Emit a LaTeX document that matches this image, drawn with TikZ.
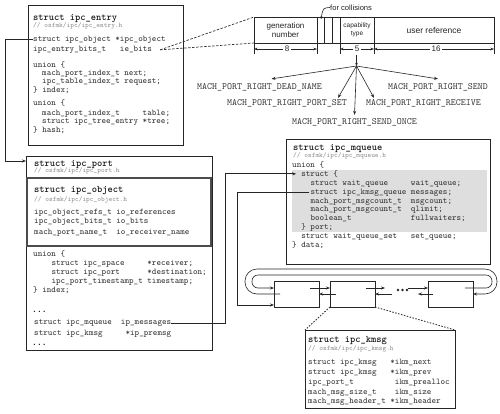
\documentclass[tikz,border=0pt]{standalone}
\usepackage{fontspec}
\setsansfont{Liberation Sans}
\newfontfamily\lmono{Liberation Mono}
\usetikzlibrary{arrows.meta,calc}
\newcounter{lnc}
\newcommand\cl[3]{\stepcounter{lnc}\node[#1] (ln\arabic{lnc}) at (#2) {#3};}
\begin{document}
\begin{tikzpicture}[x=1pt,y=-1pt,
  box/.style={draw=black!85, line width=0.8pt, inner sep=0pt, outer sep=0pt, anchor=north west},
  objbox/.style={draw=black!70, line width=1.4pt, inner sep=0pt, outer sep=0pt, anchor=north west},
  code/.style={font=\fontsize{8.7}{10}\selectfont\ttfamily, text=black!80, inner sep=0pt, anchor=base west},
  dots/.style={font=\fontsize{8}{10}\selectfont\lmono\bfseries, text=black!90, inner sep=0pt, anchor=base west},
  ttl/.style={font=\fontsize{10}{12}\selectfont\ttfamily\bfseries, text=black!90, inner sep=0pt, anchor=base west},
  cmt/.style={font=\fontsize{7}{8}\selectfont\ttfamily, text=black!45, inner sep=0pt, anchor=base west},
  mach/.style={font=\fontsize{9.5}{11}\selectfont\ttfamily, text=black!80, inner sep=0pt, anchor=base},
  lbl/.style={font=\fontsize{8}{8.5}\selectfont\sffamily, text=black!85, inner sep=0pt, align=center},
  dimlbl/.style={font=\fontsize{8}{9}\selectfont\sffamily, text=black!85, fill=white, inner sep=1.5pt},
  arr/.style={-{Stealth[length=4pt,width=3pt]}, line width=0.6pt, draw=black!85},
  wire/.style={line width=0.7pt, draw=black!85},
  dimarr/.style={{Stealth[length=3.5pt,width=2.5pt]}-{Stealth[length=3.5pt,width=2.5pt]}, line width=0.5pt, draw=black!85},
  dashedl/.style={line width=0.7pt, draw=black!80, dash pattern=on 2.5pt off 1.5pt},
  dottedl/.style={line width=0.9pt, draw=black!80, dash pattern=on 1.5pt off 1.5pt},
]
\fill[white] (0,0) rectangle (500,413);
\useasboundingbox (0,0) rectangle (500,413);

% ---------- boxes ----------
\node[box, minimum width=155pt, minimum height=140pt] (entry) at (28,5) {};
\node[box, minimum width=186pt, minimum height=194pt] (portbox) at (26,156) {};
\node[objbox, minimum width=184pt, minimum height=68pt] (objbox) at (27,178) {};
\node[box, minimum width=204pt, minimum height=125pt] (mq) at (286,139) {};
\fill[black!13] (292,170) rectangle (487,232);
\node[box, minimum width=150pt, minimum height=78pt] (kmsg) at (305,330) {};
\node[box, minimum width=240pt, minimum height=26pt] (bits) at (254,17) {};
\node[box, minimum width=45pt, minimum height=26pt] (n1) at (274,281) {};
\node[box, minimum width=45pt, minimum height=26pt] (n2) at (330,281) {};
\node[box, minimum width=45pt, minimum height=26pt] (n3) at (428,281) {};

% ---------- ipc_entry ----------
\node[ttl] (eT) at (33,20) {struct ipc\_entry};
\node[cmt] (eC) at (33,27.5) {// osfmk/ipc/ipc\_entry.h};
\node[code] (ipcobj) at (33,41.5) {struct ipc\_object *ipc\_object};
\node[code] (iebits) at (33,51.5) {ipc\_entry\_bits\_t~~~ie\_bits};
\cl{code}{33,67.5}{union \{}
\cl{code}{42,75.5}{mach\_port\_index\_t next;}
\cl{code}{42,83.5}{ipc\_table\_index\_t request;}
\cl{code}{33,92.5}{\} index;}
\cl{code}{33,105.5}{union \{}
\cl{code}{42,115.5}{mach\_port\_index\_t~~~~~table;}
\cl{code}{42,123.5}{struct ipc\_tree\_entry *tree;}
\cl{code}{33,132.5}{\} hash;}

% ---------- ipc_port ----------
\node[ttl] (pT) at (34,166) {struct ipc\_port};
\node[cmt] (pC) at (34,172.5) {// osfmk/ipc/ipc\_port.h};
\node[ttl] (oT) at (34,192) {struct ipc\_object};
\node[cmt] (oC) at (34,201.5) {// osfmk/ipc/ipc\_object.h};
\cl{code}{34,214.5}{ipc\_object\_refs\_t io\_references}
\cl{code}{34,223.5}{ipc\_object\_bits\_t io\_bits}
\cl{code}{34,234.5}{mach\_port\_name\_t~~io\_receiver\_name}
\cl{code}{33,256}{union \{}
\cl{code}{51.3,265.5}{struct ipc\_space~~~~~*receiver;}
\cl{code}{51.3,274.5}{struct ipc\_port~~~~~~*destination;}
\cl{code}{51.3,283.5}{ipc\_port\_timestamp\_t~timestamp;}
\cl{code}{33,292.5}{\} index;}
\cl{dots}{32,312}{...}
\node[code] (msgs) at (34,324.5) {struct ipc\_mqueue~~ip\_messages};
\cl{code}{34,335.5}{struct ipc\_kmsg~~~~~*ip\_premsg}
\cl{dots}{32,345}{...}

% ---------- ipc_mqueue ----------
\node[ttl] (mT) at (293,150) {struct ipc\_mqueue};
\node[cmt] (mC) at (293,157.5) {// osfmk/ipc/ipc\_mqueue.h};
\cl{code}{292,167.5}{union \{}
\node[code] (st) at (301.1,176.5) {struct \{};
\cl{code}{310.3,185.5}{struct wait\_queue~~~~~wait\_queue;}
\node[code] (kq) at (310.3,194.5) {struct ipc\_kmsg\_queue messages;};
\cl{code}{310.3,203.5}{mach\_port\_msgcount\_t~~msgcount;}
\cl{code}{310.3,211.5}{mach\_port\_msgcount\_t~~qlimit;}
\cl{code}{310.3,220.5}{boolean\_t~~~~~~~~~~~~~fullwaiters;}
\cl{code}{301.1,229.5}{\} port;}
\cl{code}{301.1,238.5}{struct wait\_queue\_set~~~set\_queue;}
\cl{code}{292,247.5}{\} data;}

% ---------- ipc_kmsg ----------
\node[ttl] (kT) at (308,342) {struct ipc\_kmsg};
\node[cmt] (kC) at (308,350) {// osfmk/ipc/ipc\_kmsg.h};
\cl{code}{308,364.5}{struct ipc\_kmsg~~~*ikm\_next}
\cl{code}{308,374.5}{struct ipc\_kmsg~~~*ikm\_prev}
\cl{code}{308,384.5}{ipc\_port\_t~~~~~~~~~ikm\_prealloc}
\cl{code}{308,394.5}{mach\_msg\_size\_t~~~~ikm\_size}
\cl{code}{308,403.5}{mach\_msg\_header\_t~*ikm\_header}

% ---------- bit field ----------
\foreach \x in {317,324,332,340,374} \draw[line width=0.8pt, black!85] (\x,17) -- (\x,43);
\foreach \x in {254,317,340,374,494} \draw[line width=0.5pt, black!85] (\x,43) -- (\x,54);
\node[lbl] (gen) at (285.5,30) {generation\\number};
\node[lbl, font=\fontsize{6.5}{8.5}\selectfont\sffamily] (captype) at (357,30) {capability\\type};
\node[lbl, font=\fontsize{8.5}{9}\selectfont\sffamily] (usr) at (434,30) {user reference};
\node[lbl, anchor=west, font=\fontsize{7.6}{9}\selectfont\sffamily] (coll) at (330,7.5) {for collisions};
\draw[line width=0.6pt, black!85, -{Stealth[length=2.5pt,width=2.5pt]}] (coll.west) .. controls (323,8) .. (321,19);
\coordinate (d0) at (254,49); \coordinate (d1) at (317,49);
\coordinate (d2) at (340,49); \coordinate (d3) at (374,49); \coordinate (d4) at (494,49);
\draw[dimarr] (d0) -- (d1);
\draw[dimarr] (d2) -- (d3);
\draw[dimarr] (d3) -- (d4);
\node[dimlbl] (w8) at (287,49) {8};
\node[dimlbl] (w5) at (357,49) {5};
\node[dimlbl] (w16) at (436,49) {16};

% dashed zoom lines
\draw[dashedl] ([xshift=8pt]iebits.east) -- (bits.north west);
\draw[dashedl] ([xshift=8pt]iebits.east) -- (bits.south west);

% ---------- rights fan ----------
\coordinate (capdim) at (356.5,55);
\coordinate (apex) at (356.5,66);
\node[mach] (dead) at (259.5,89) {MACH\_PORT\_RIGHT\_DEAD\_NAME};
\node[mach] (send) at (438,89) {MACH\_PORT\_RIGHT\_SEND};
\node[mach] (pset) at (287,105.5) {MACH\_PORT\_RIGHT\_PORT\_SET};
\node[mach] (recv) at (423.5,105.5) {MACH\_PORT\_RIGHT\_RECEIVE};
\node[mach] (sonce) at (354.5,124) {MACH\_PORT\_RIGHT\_SEND\_ONCE};
\draw[arr, {-Stealth[length=3pt,width=2.5pt]}] (capdim) -- (apex);
\draw[arr] (apex) -- ([xshift=12pt,yshift=4pt]dead.north);
\draw[arr] (apex) -- ([yshift=4pt]send.north);
\draw[arr] (apex) -- ([xshift=-9pt,yshift=1.5pt]pset.north east);
\draw[arr] (apex) -- ([xshift=8pt,yshift=1.5pt]recv.north west);
\draw[arr] (apex) -- ([yshift=3pt]sonce.north);

% ---------- wires ----------
\coordinate (xL) at (5,0);
\coordinate (xA) at (225,0);
\coordinate (xB) at (237,0);
\draw[arr, line width=0.7pt] (ipcobj.west) -- (ipcobj.west -| xL) |- ([yshift=-5pt]portbox.north west);
\draw[arr, line width=0.7pt] (msgs.east) -- (msgs.east -| xA) |- ([xshift=-5pt]st.west);
\draw[arr, line width=0.7pt] ([xshift=-1pt]kq.west) -- (kq.west -| xB) |- ([yshift=-11pt]n1.west);

% ---------- queue ----------
\draw[arr] ([xshift=-9pt,yshift=6pt]n1.east) -- ([yshift=6pt]n2.west);
\draw[arr] ([xshift=6pt]n2.west) -- (n1.east);
\draw[arr] ([xshift=-9pt,yshift=6pt]n2.east) -- ([xshift=10pt,yshift=6pt]n2.east);
\draw[arr] ([xshift=17pt]n2.east) -- (n2.east);
\fill[black!85] (398,290) circle (1.3) (402.5,290) circle (1.3) (407,290) circle (1.3);
\draw[arr] ([xshift=-20pt,yshift=6pt]n3.west) -- ([yshift=6pt]n3.west);
\draw[arr] ([xshift=5pt]n3.west) -- ([xshift=-10pt]n3.west);
\draw[arr, rounded corners=12pt] ([xshift=6pt]n1.west) -- (245,294) -- (245,269) -- (497,269) -- (497,294) -- (n3.east);
\draw[arr, rounded corners=6pt] ([xshift=-8pt,yshift=6pt]n3.east) -- (492,288) -- (492,275) -- (252,275) -- (252,288) -- ([yshift=6pt]n1.west);

% dotted zoom lines to kmsg
\draw[dottedl] (n2.south west) -- (kmsg.north west);
\draw[dottedl] (n2.south east) -- (kmsg.north east);
\end{tikzpicture}
\end{document}
